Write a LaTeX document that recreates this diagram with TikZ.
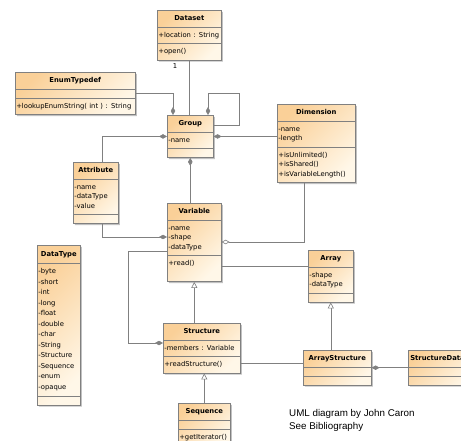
\documentclass[tikz,border=0pt]{standalone}
\usepackage{fontspec}
\setmainfont{DejaVu Sans}
\newfontfamily\notefont{Liberation Sans}
\usetikzlibrary{shapes.multipart,arrows.meta,shadows,calc,positioning}

\definecolor{umlline}{RGB}{128,128,128}
\definecolor{umlpeach}{RGB}{250,208,152}
\definecolor{umlcream}{RGB}{255,247,232}

\newcommand{\umltitle}[1]{\hspace*{\fill}\textbf{#1}\hspace*{\fill}\strut}
\newcommand{\umlnone}{\rule{0pt}{2pt}}

\begin{document}
\begin{tikzpicture}[x=1pt,y=-1pt,
  umlclass/.style={rectangle split,rectangle split parts=3,draw=umlline,line width=0.6pt,
    top color=umlpeach,bottom color=umlcream,shading angle=45,
    drop shadow={shadow xshift=1.5pt,shadow yshift=-1.5pt,fill=black!35,opacity=0.7},
    anchor=north west,inner xsep=1pt,inner ysep=3.25pt,align=left,
    font=\fontsize{6.8}{9.5}\selectfont},
  link/.style={draw=umlline,line width=0.6pt},
  owns/.style={link,{Diamond[length=8pt,width=4.5pt]}-},
  shares/.style={link,{Diamond[open,length=8pt,width=4.5pt]}-},
  isa/.style={link,{Triangle[length=6pt,width=6pt,fill=white]}-}]
\useasboundingbox (0,0) rectangle (461,441);
\clip (0,0) rectangle (461,441);

% classes
\node[umlclass,text width=62pt] (dataset) at (157,10)
  {\umltitle{Dataset}\nodepart{two}\strut+location : String\nodepart{three}\strut+open()};
\node[umlclass,text width=118pt] (enumtypedef) at (15,72)
  {\umltitle{EnumTypedef}\nodepart{two}\umlnone\nodepart{three}\strut+lookupEnumString( int ) : String};
\node[umlclass,text width=44pt] (group) at (167,115)
  {\umltitle{Group}\nodepart{two}\strut-name\nodepart{three}\umlnone};
\node[umlclass,text width=76pt] (dimension) at (277,104)
  {\umltitle{Dimension}\nodepart{two}\strut-name\\-length\strut
   \nodepart{three}\strut+isUnlimited()\\+isShared()\\+isVariableLength()\strut};
\node[umlclass,text width=43pt] (attribute) at (73,162)
  {\umltitle{Attribute}\nodepart{two}\strut-name\\-dataType\\-value\strut\nodepart{three}\umlnone};
\node[umlclass,text width=52pt] (variable) at (167,203)
  {\umltitle{Variable}\nodepart{two}\strut-name\\-shape\\-dataType\strut\nodepart{three}\strut+read()\\\strut};
\node[umlclass,text width=41pt,font=\fontsize{6.8}{10.5}\selectfont] (datatype) at (37,245)
  {\umltitle{DataType}\nodepart{two}\strut-byte\\-short\\-int\\-long\\-float\\-double\\-char\\-String\\-Structure\\-Sequence\\-enum\\-opaque\strut
   \nodepart{three}\umlnone};
\node[umlclass,text width=43pt] (array) at (308,250)
  {\umltitle{Array}\nodepart{two}\strut-shape\\-dataType\strut\nodepart{three}\umlnone};
\node[umlclass,text width=75pt] (structure) at (163,323)
  {\umltitle{Structure}\nodepart{two}\strut-members : Variable\nodepart{three}\strut+readStructure()};
\node[umlclass,text width=50pt] (sequence) at (178,403)
  {\umltitle{Sequence}\nodepart{two}\umlnone\nodepart{three}\strut+getIterator()};
\node[umlclass,text width=66pt] (arraystructure) at (303,350)
  {\umltitle{ArrayStructure}\nodepart{two}\umlnone\nodepart{three}\umlnone};
\node[umlclass,text width=66pt] (structuredata) at (408,350)
  {\hspace{1pt}\textbf{StructureData}\strut\nodepart{two}\umlnone\nodepart{three}\umlnone};

\node[anchor=north west,align=left,inner sep=0pt,font=\notefont\fontsize{9.8}{13}\selectfont] (credit) at (289,409)
  {UML diagram by John Caron\\See Bibliography};

% connectors
\draw[link] (dataset.south) -- (dataset.south |- group.north);
\node[below left=3pt and 12pt of dataset.south,inner sep=0pt,font=\fontsize{6.8}{9.5}\selectfont] (mult) {1};
\draw[owns] ($(group.north west)+(6,0)$) |- (enumtypedef.east);
\draw[owns] ($(group.north west)+(41,0)$) -- ++(0,-22) -| ($(group.north east)+(26,10)$) -- ($(group.north east)+(0,10)$);
\draw[owns] (group.east) -- (group.east -| dimension.west);
\draw[owns] (group.west) -| ($(attribute.north)+(6,0)$);
\draw[owns] (group.south) -- (group.south |- variable.north);
\draw[owns] ($(variable.north west)+(0,34)$) -| ($(attribute.south)+(6,0)$);
\draw[shares] ($(variable.north east)+(0,39)$) -| ($(dimension.south)+(-12,0)$);

\coordinate (varright) at ($(variable.north east)+(0,63)$);
\draw[link] (varright) -- (varright -| array.west);
\coordinate (varleft) at ($(variable.north west)+(0,48)$);
\draw[owns] ($(structure.north west)+(0,20)$) -| ($(varleft)+(-39,0)$) -- (varleft);

\draw[isa] (variable.south) -- (variable.south |- structure.north);
\draw[isa] (structure.south -| sequence.north) -- (sequence.north);
\draw[isa] (array.south) -- (array.south |- arraystructure.north);

\coordinate (strright) at ($(structure.north east)+(0,40)$);
\draw[link] (strright) -- (strright -| arraystructure.west);
\draw[owns] (arraystructure.east) -- (arraystructure.east -| structuredata.west);
\end{tikzpicture}
\end{document}
